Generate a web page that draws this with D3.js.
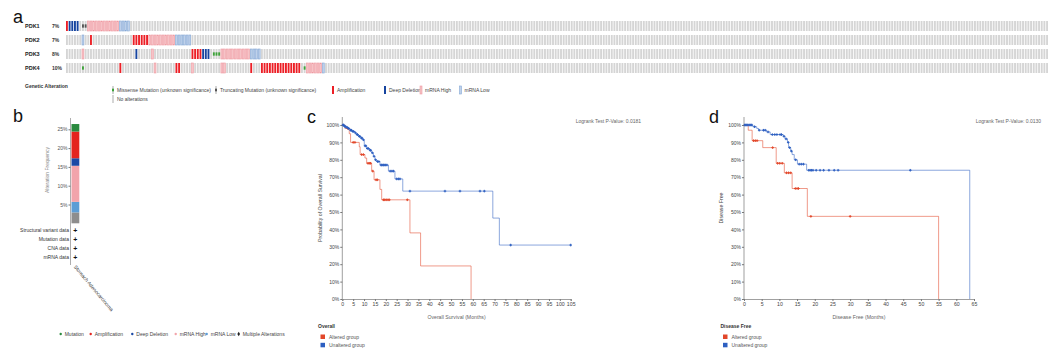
<!DOCTYPE html>
<html>
<head>
<meta charset="utf-8">
<script src="https://cdn.jsdelivr.net/npm/d3@7"></script>
<style>
  body { margin: 0; background: #fff; }
  svg { display: block; font-family: "Liberation Sans", Arial, sans-serif; }
</style>
</head>
<body>
<svg id="fig" width="1061" height="354"></svg>
<script>
// ---------- data: panel a (oncoprint) ----------
const genes = ["PDK1", "PDK2", "PDK3", "PDK4"];
const genePct = ["7%", "7%", "8%", "10%"];
const nSamples = 368;
// [first sample column, codes]  A amp, D deep del, H mRNA high, L mRNA low, M missense, T truncating, . none
const pdk1 = [[0, "ADDDD.TTHHHHHHHHHHHHLLLL"]];
const pdk2 = [[6, "L"], [9, "A"], [25, "AAAAAA"], [31, "HHHHHHHHHH"], [41, "LLLLLL"]];
const pdk3 = [[6, "H"], [26, "D"], [32, "H"], [47, "AAAADDD.MMM"], [58, "HHHHHHHHHHH"], [69, "LLLL"]];
const pdk4 = [[6, "M"], [20, "A"], [33, "H"], [41, "AA"], [47, "H"], [58, "HH"], [69, "A"],
              [73, "AAAAAAAAAAAAAAA"], [89, "MHHHHHHL"]];
const altLegend = ["Missense Mutation (unknown significance)", "Truncating Mutation (unknown significance)",
                   "Amplification", "Deep Deletion", "mRNA High", "mRNA Low"];
const altLegendCodes = ["M", "T", "A", "D", "H", "L"];

// ---------- data: panel b (alteration frequency) ----------
const freqTypes = ["Multiple Alterations", "mRNA Low", "mRNA High", "Deep Deletion", "Amplification", "Mutation"];
const freqValues = [2.9, 2.8, 9.6, 2.0, 7.1, 2.0];
const freqTicks = [5, 10, 15, 20, 25];
const dataRows = ["Structural variant data", "Mutation data", "CNA data", "mRNA data"];
const cancerStudy = "Stomach Adenocarcinoma";
const freqLegend = ["Mutation", "Amplification", "Deep Deletion", "mRNA High", "mRNA Low", "Multiple Alterations"];

// ---------- data: panel c (overall survival) ----------
const osAltT = [0, 1.2, 3.2, 3.8, 7.8, 8.2, 10.4, 11.2, 13.5, 14.6, 17.3, 18.1, 31.1, 36, 59.2];
const osAltS = [100, 98, 95, 90, 87.5, 83, 81, 78, 73.5, 68.5, 63, 57, 38, 19, 0];
const osAltCens = [2.5, 5, 5.8, 8.9, 9.7, 11.8, 12.4, 13, 14, 15.5, 16.1, 18.9, 19.5, 20.2, 21, 21.6, 29.9];
const osUnT = [0, 0.8, 1.5, 2.5, 3.5, 4.5, 5.8, 6.5, 7.4, 8.5, 9.4, 10.1, 11.2, 12.5, 13.5, 14.3, 15, 15.8, 17.3, 21.2, 24.2, 27.8, 69.2, 72.2];
const osUnS = [100, 99.3, 98.7, 98, 97, 96.3, 95.5, 94.5, 93.5, 92.5, 91.5, 88, 86.5, 85.5, 84, 82, 80, 79, 77, 73.5, 69, 62, 46.5, 31];
const osUnCens = [0.3, 0.6, 1, 1.3, 1.8, 2.2, 2.8, 3, 3.8, 4.2, 4.8, 5.2, 6, 6.8, 7, 7.8, 8, 8.8, 9, 9.7, 10.5, 10.8,
                  11.5, 12, 12.8, 13, 13.8, 14.6, 15.3, 16.2, 16.8, 17.8, 18.2, 18.8, 19.2, 19.8, 20.5, 22, 22.8, 23.5,
                  25, 25.8, 26.5, 31.1, 47.2, 54.1, 63.3, 65.3, 77.4, 105];
const osPValue = "Logrank Test P-Value: 0.0181";

// ---------- data: panel d (disease free) ----------
const dfsAltT = [0, 1.2, 2.3, 5.3, 9.1, 11.4, 13.6, 17.9, 55];
const dfsAltS = [100, 97, 91, 87, 78, 72.5, 63.5, 47.5, 0];
const dfsAltCens = [2.7, 3.2, 3.7, 8.1, 9.5, 10.1, 10.8, 12, 12.6, 13.2, 14.5, 15, 15.4, 18.9, 30];
const dfsUnT = [0, 2.5, 3.6, 4.1, 6.4, 7.4, 11.1, 11.6, 12.3, 12.6, 13.2, 13.6, 14.2, 15.1, 17.7, 63.8];
const dfsUnS = [100, 99, 98, 97, 96, 94.5, 93.5, 92, 90, 87, 85, 83, 80, 77.5, 74, 0];
const dfsUnCens = [0.2, 0.5, 0.8, 1.1, 1.5, 1.9, 2.2, 3, 4.3, 5.5, 6, 6.8, 8, 8.7, 9.3, 10.2, 10.6, 11.3, 11.9,
                   12.5, 12.9, 13.4, 14.6, 15.6, 16.2, 16.8, 18.3, 18.7, 19.1, 19.5, 20.4, 21.5, 22.5, 24, 25.5, 26.6, 47];
const dfsPValue = "Logrank Test P-Value: 0.0130";

const groups = ["Altered group", "Unaltered group"];

// ---------- styles ----------
const cellFill = { ".": "#d5d5d5", A: "#ec1f26", D: "#16449f", H: "#f6c3c7", L: "#bfd1ea", M: "#d5d5d5", T: "#d5d5d5" };
const cellStroke = { H: "#ef99a1", L: "#84a7d5" };
const glyphFill = { M: "#3ea33a", T: "#555" };
const freqColors = ["#8d8d8d", "#5c9dd5", "#f2a4ab", "#1b49a5", "#e4241f", "#2a8a3f"];
const kmColors = ["#e2472a", "#2d5fc1"];

const svg = d3.select("#fig");
svg.append("rect").attr("width", 1061).attr("height", 354).attr("fill", "#fff");

function panelLabel(t, x, y) {
  svg.append("text").attr("x", x).attr("y", y).attr("font-size", 18).attr("fill", "#111").text(t);
}

// ================= panel a =================
panelLabel("a", 13, 23);

function expand(list) {
  const out = new Array(nSamples).fill(".");
  list.forEach(([start, codes]) => codes.split("").forEach((c, k) => { out[start + k] = c; }));
  return out;
}

const col = d3.scaleBand().domain(d3.range(nSamples)).range([66, 1048]).paddingInner(0.3);
const row = d3.scaleBand().domain(genes).range([19, 75]).paddingInner(4 / 14).paddingOuter(2 / 14);

[pdk1, pdk2, pdk3, pdk4].forEach((alts, gi) => {
  const g = genes[gi];
  const codes = expand(alts);
  const y0 = row(g), h = row.bandwidth();
  const gg = svg.append("g");
  gg.selectAll("rect.cell").data(codes).join("rect")
    .attr("class", "cell")
    .attr("x", (d, i) => col(i)).attr("y", y0)
    .attr("width", col.bandwidth()).attr("height", h)
    .attr("fill", d => cellFill[d])
    .attr("stroke", d => cellStroke[d] || "none")
    .attr("stroke-width", 0.6);
  gg.selectAll("rect.glyph").data(codes.map((c, i) => ({ c, i })).filter(d => glyphFill[d.c])).join("rect")
    .attr("class", "glyph")
    .attr("x", d => col(d.i)).attr("y", y0 + h / 3)
    .attr("width", col.bandwidth()).attr("height", h / 3)
    .attr("fill", d => glyphFill[d.c]);
  svg.append("text").attr("x", 25).attr("y", y0 + h / 2).attr("dy", "0.35em")
    .attr("font-size", 5.5).attr("font-weight", "bold").attr("fill", "#222").text(g);
  svg.append("text").attr("x", 52).attr("y", y0 + h / 2).attr("dy", "0.35em")
    .attr("font-size", 5).attr("font-weight", "bold").attr("fill", "#333").text(genePct[gi]);
});

svg.append("text").attr("x", 25).attr("y", 87.5).attr("font-size", 5).attr("font-weight", "bold")
  .attr("fill", "#333").text("Genetic Alteration");

function legendCell(x, y, code) {
  svg.append("rect").attr("x", x).attr("y", y).attr("width", 2).attr("height", 8)
    .attr("fill", cellFill[code]).attr("stroke", cellStroke[code] || "none").attr("stroke-width", 0.6);
  if (glyphFill[code]) {
    svg.append("rect").attr("x", x).attr("y", y + 8 / 3).attr("width", 2).attr("height", 8 / 3)
      .attr("fill", glyphFill[code]);
  }
}
const legX = [112, 215, 332, 384, 420, 459.5];
altLegend.forEach((t, i) => {
  legendCell(legX[i], 86, altLegendCodes[i]);
  svg.append("text").attr("x", legX[i] + 5).attr("y", 90).attr("dy", "0.35em")
    .attr("font-size", 5).attr("fill", "#444").text(t);
});
legendCell(112, 95, ".");
svg.append("text").attr("x", 117).attr("y", 99).attr("dy", "0.35em")
  .attr("font-size", 5).attr("fill", "#444").text("No alterations");

// ================= panel b =================
panelLabel("b", 13, 122);

const fy = d3.scaleLinear().domain([0, 25]).range([223.3, 129.3]);
const stack = d3.cumsum(freqValues);
svg.append("g").selectAll("rect").data(freqValues).join("rect")
  .attr("x", 71.5).attr("width", 7.8)
  .attr("y", (d, i) => fy(stack[i]))
  .attr("height", (d, i) => fy(stack[i] - d) - fy(stack[i]))
  .attr("fill", (d, i) => freqColors[i]);

const fAxis = svg.append("g").attr("transform", "translate(70.5,0)")
  .call(d3.axisLeft(fy).tickValues(freqTicks).tickFormat(d => d + "%").tickSize(2).tickPadding(1));
fAxis.select(".domain").remove();
fAxis.selectAll("line").attr("stroke", "#777");
fAxis.selectAll("text").attr("font-size", 5).attr("fill", "#555");
svg.append("line").attr("x1", 70.5).attr("x2", 70.5).attr("y1", 118).attr("y2", 265)
  .attr("stroke", "#777").attr("stroke-width", 0.6);

svg.append("text").attr("transform", "translate(49,170) rotate(-90)").attr("text-anchor", "middle")
  .attr("font-size", 5).attr("fill", "#888").text("Alteration Frequency");

dataRows.forEach((t, i) => {
  const y = 230.7 + i * 8.9;
  svg.append("text").attr("x", 69).attr("y", y).attr("dy", "0.35em").attr("text-anchor", "end")
    .attr("font-size", 5).attr("fill", "#333").text(t);
  svg.append("text").attr("x", 75.4).attr("y", y).attr("dy", "0.35em").attr("text-anchor", "middle")
    .attr("font-size", 7).attr("font-weight", "bold").attr("fill", "#111").text("+");
});
svg.append("text").attr("transform", "translate(73.5,267) rotate(50)")
  .attr("font-size", 5).attr("fill", "#333").text(cancerStudy);

const fLegX = [60.7, 90.7, 132.3, 175.7, 206.7, 238.7];
freqLegend.forEach((t, i) => {
  const c = i < 5 ? freqColors[5 - i] : "#222";
  if (i < 5) {
    svg.append("circle").attr("cx", fLegX[i]).attr("cy", 334).attr("r", 1.2).attr("fill", c);
  } else {
    svg.append("path").attr("d", d3.symbol(d3.symbolDiamond, 6)())
      .attr("transform", `translate(${fLegX[i]},334)`).attr("fill", c);
  }
  svg.append("text").attr("x", fLegX[i] + 4).attr("y", 334).attr("dy", "0.35em")
    .attr("font-size", 5).attr("fill", "#444").text(t);
});

// ================= panels c and d =================
function survAt(T, S, t) {
  let s = S[0];
  for (let k = 0; k < T.length; k++) if (T[k] <= t) s = S[k];
  return s;
}

function drawKM(o) {
  const x = d3.scaleLinear().domain([0, o.maxT]).range([o.x0, o.x1]);
  const y = d3.scaleLinear().domain([0, 100]).range([299, 125]);

  const xa = svg.append("g").attr("transform", "translate(0,299)")
    .call(d3.axisBottom(x).tickValues(d3.range(0, o.maxT + 1, 5)).tickSize(2).tickPadding(1.5));
  xa.select(".domain").attr("stroke", "#777").attr("stroke-width", 0.7);
  xa.selectAll("line").attr("stroke", "#777");
  xa.selectAll("text").attr("font-size", 5.2).attr("fill", "#444");

  const ya = svg.append("g").attr("transform", `translate(${o.x0},0)`)
    .call(d3.axisLeft(y).tickValues(d3.range(0, 101, 10)).tickFormat(d => d + "%").tickSize(2).tickPadding(1));
  ya.select(".domain").remove();
  ya.selectAll("line").attr("stroke", "#777");
  ya.selectAll("text").attr("font-size", 5).attr("fill", "#444");
  svg.append("line").attr("x1", o.x0).attr("x2", o.x0).attr("y1", 117).attr("y2", 299)
    .attr("stroke", "#777").attr("stroke-width", 0.7);

  const line = d3.line().x(d => x(d[0])).y(d => y(d[1])).curve(d3.curveStepAfter);
  o.curves.forEach((c, ci) => {
    const pts = c.T.map((t, k) => [t, c.S[k]]);
    const end = Math.max(c.T[c.T.length - 1], d3.max(c.cens));
    if (end > c.T[c.T.length - 1]) pts.push([end, c.S[c.S.length - 1]]);
    svg.append("path").attr("d", line(pts)).attr("fill", "none")
      .attr("stroke", kmColors[ci]).attr("stroke-opacity", 0.55).attr("stroke-width", 1);
    svg.append("g").selectAll("path").data(c.cens).join("path")
      .attr("d", "M-1.3,0H1.3M0,-1.3V1.3")
      .attr("transform", t => `translate(${x(t)},${y(survAt(c.T, c.S, t))})`)
      .attr("stroke", kmColors[ci]).attr("stroke-width", 1);
  });

  svg.append("text").attr("x", (o.x0 + o.x1) / 2).attr("y", 317).attr("dy", "0.35em")
    .attr("text-anchor", "middle").attr("font-size", 5.2).attr("fill", "#666").text(o.xTitle);
  svg.append("text").attr("transform", `translate(${o.yTitleX},208) rotate(-90)`)
    .attr("text-anchor", "middle").attr("font-size", 5.2).attr("fill", "#444").text(o.yTitle);
  svg.append("text").attr("x", o.pX).attr("y", 121.5).attr("dy", "0.35em")
    .attr("font-size", 5).attr("fill", "#666").text(o.pText);

  svg.append("text").attr("x", o.legX).attr("y", 326).attr("dy", "0.35em")
    .attr("font-size", 5).attr("font-weight", "bold").attr("fill", "#333").text(o.legTitle);
  groups.forEach((gname, gi) => {
    const yy = 336.8 + gi * 8.3;
    svg.append("rect").attr("x", o.legX + 2.5).attr("y", yy - 2.3).attr("width", 4.5).attr("height", 4.5)
      .attr("fill", kmColors[gi]);
    svg.append("text").attr("x", o.legX + 11).attr("y", yy).attr("dy", "0.35em")
      .attr("font-size", 5).attr("fill", "#555").text(gname);
  });
}

panelLabel("c", 307, 123);
drawKM({
  x0: 342.3, x1: 570.7, maxT: 105,
  curves: [{ T: osAltT, S: osAltS, cens: osAltCens }, { T: osUnT, S: osUnS, cens: osUnCens }],
  xTitle: "Overall Survival (Months)", yTitle: "Probability of Overall Survival", yTitleX: 322,
  pX: 575.7, pText: osPValue, legX: 318, legTitle: "Overall"
});

panelLabel("d", 709, 123);
drawKM({
  x0: 744, x1: 974, maxT: 65,
  curves: [{ T: dfsAltT, S: dfsAltS, cens: dfsAltCens }, { T: dfsUnT, S: dfsUnS, cens: dfsUnCens }],
  xTitle: "Disease Free (Months)", yTitle: "Disease Free", yTitleX: 722.5,
  pX: 975.7, pText: dfsPValue, legX: 720.5, legTitle: "Disease Free"
});
</script>
</body>
</html>
